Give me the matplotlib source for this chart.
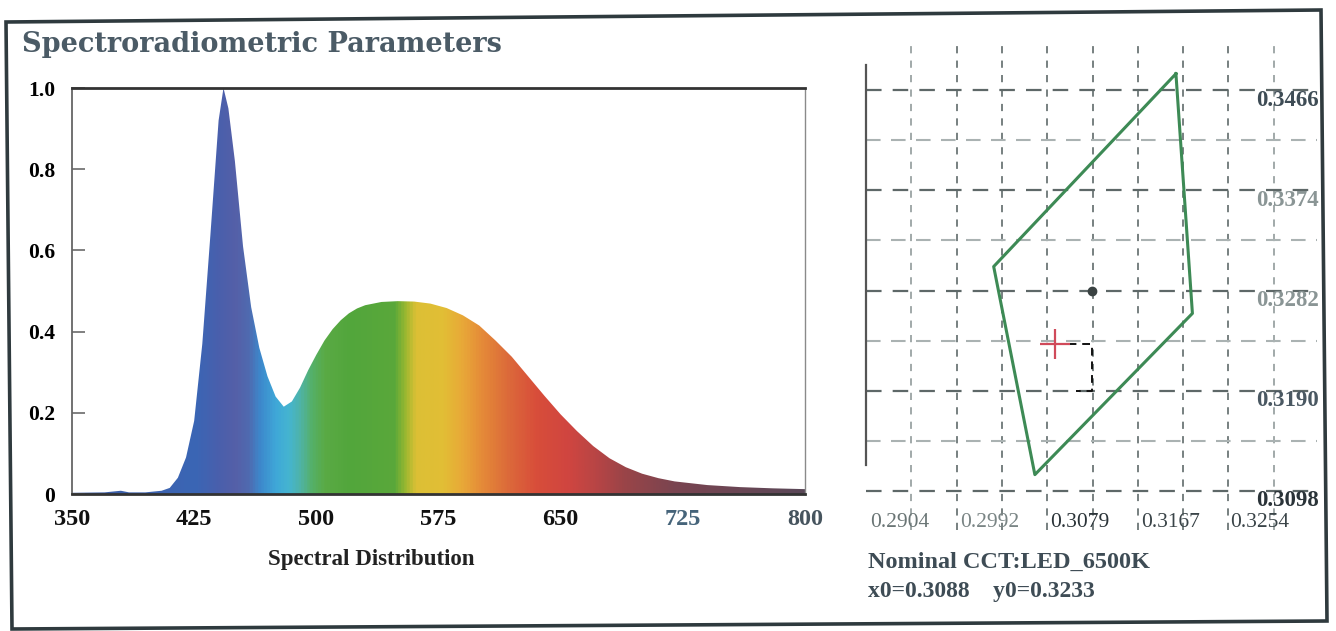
import numpy as np
import matplotlib
matplotlib.use("Agg")
import matplotlib.pyplot as plt
import matplotlib.patches as mpatches
from matplotlib.colors import LinearSegmentedColormap
from matplotlib.transforms import offset_copy

# spectrum (relative power vs wavelength, nm)
wl = [350, 370, 380, 385, 395, 405, 410, 415, 420, 425, 430, 435, 440, 443,
      446, 450, 455, 460, 465, 470, 475, 480, 485, 490, 495, 500, 505, 510,
      515, 520, 525, 530, 540, 550, 560, 570, 580, 590, 600, 610, 620, 630,
      640, 650, 660, 670, 680, 690, 700, 710, 720, 740, 760, 780, 800]
power = [0.003, 0.004, 0.008, 0.004, 0.004, 0.008, 0.015, 0.04, 0.09, 0.18,
         0.37, 0.64, 0.92, 1.00, 0.95, 0.82, 0.61, 0.46, 0.36, 0.29, 0.24,
         0.215, 0.228, 0.262, 0.305, 0.343, 0.378, 0.406, 0.428, 0.445,
         0.457, 0.465, 0.473, 0.475, 0.474, 0.469, 0.458, 0.44, 0.415, 0.378,
         0.338, 0.29, 0.242, 0.196, 0.155, 0.118, 0.088, 0.066, 0.05, 0.039,
         0.031, 0.022, 0.017, 0.014, 0.012]
x_ticks = [350, 425, 500, 575, 650, 725, 800]
y_ticks = [0, 0.2, 0.4, 0.6, 0.8, 1.0]
y_ticklabels = ["0", "0.2", "0.4", "0.6", "0.8", "1.0"]

# chromaticity panel
cie_x_ticks = [0.2904, 0.2992, 0.3079, 0.3167, 0.3254]
cie_y_ticks = [0.3098, 0.3190, 0.3282, 0.3374, 0.3466]
bin_x = [0.3205, 0.3221, 0.3068, 0.3028]   # LED_6500K quadrangle
bin_y = [0.3481, 0.3261, 0.3113, 0.3304]
center_x, center_y = 0.3123, 0.3282
x0, y0 = 0.3088, 0.3233

# wavelength -> display colour (as printed)
color_stops = [(350, "#3a5aa0"), (405, "#3d63b0"), (425, "#3a66b5"),
               (440, "#4a5fac"), (450, "#5560a8"), (458, "#4f6ab0"),
               (465, "#3d88cc"), (475, "#3fa8d8"), (483, "#45b5d0"),
               (490, "#4fb3a5"), (497, "#55b068"), (505, "#5aaa45"),
               (520, "#52a63c"), (548, "#5aa83a"), (555, "#9cb830"),
               (561, "#dcc035"), (578, "#e2be35"), (590, "#e8a838"),
               (602, "#e58a38"), (618, "#dc6a3a"), (635, "#d84e3a"),
               (655, "#d04540"), (672, "#b84545"), (690, "#9a4448"),
               (720, "#7a4450"), (800, "#5a4858")]

W, H = 1336, 631
fig = plt.figure(figsize=(W / 100, H / 100), dpi=100)

# ---- scanned frame ----
frame = mpatches.Polygon([(6 / W, 1 - 22 / H), (1321 / W, 1 - 10 / H),
                          (1327 / W, 1 - 621 / H), (12 / W, 1 - 629 / H)],
                         closed=True, fill=False, edgecolor="#2f3a3e",
                         linewidth=2.6, transform=fig.transFigure)
fig.patches.append(frame)

fig.text(22 / W, 1 - 45 / H, "Spectroradiometric Parameters",
         family="DejaVu Serif", weight="bold", fontsize=19.5,
         color="#4b5b66", va="center", ha="left")

# ---- spectrum ----
ax = fig.add_axes([72 / W, 1 - 494 / H, (805 - 72) / W, (494 - 88) / H])
ax.set_xlim(350, 800)
ax.set_ylim(0, 1.0)

cmap = LinearSegmentedColormap.from_list(
    "spec", [((nm - 350) / 450, c) for nm, c in color_stops])
grad = np.linspace(350, 800, 1200).reshape(1, -1)
im = ax.imshow(grad, extent=[350, 800, 0, 1.0], aspect="auto", cmap=cmap,
               origin="lower", vmin=350, vmax=800, interpolation="bilinear")
verts = np.column_stack([np.r_[wl, wl[::-1]],
                         np.r_[power, np.zeros(len(wl))]])
clip = mpatches.Polygon(verts, closed=True, facecolor="none",
                        edgecolor="none")
ax.add_patch(clip)
im.set_clip_path(clip)

for side, col, lw in [("left", "#666666", 1.3), ("bottom", "#333333", 2.0),
                      ("top", "#333333", 2.0), ("right", "#8a8a8a", 1.0)]:
    ax.spines[side].set_color(col)
    ax.spines[side].set_linewidth(lw)

ax.set_yticks(y_ticks)
ax.set_yticklabels(y_ticklabels)
ax.set_xticks(x_ticks)
ax.tick_params(axis="y", direction="in", length=9, width=1.4,
               color="#808080", pad=12)
ax.tick_params(axis="x", length=0, pad=11)
for lab in ax.get_yticklabels():
    lab.set_fontfamily("Liberation Serif")
    lab.set_fontweight("bold")
    lab.set_fontsize(15.5)
xcolors = ["#111111"] * 5 + ["#46647a", "#46545e"]
for lab, c in zip(ax.get_xticklabels(), xcolors):
    lab.set_fontfamily("Liberation Serif")
    lab.set_fontweight("bold")
    lab.set_fontsize(17.5)
    lab.set_color(c)
fig.text(371 / W, 1 - 560 / H, "Spectral Distribution",
         family="Liberation Serif", weight="bold", fontsize=16.5,
         color="#222222", ha="center", va="center")

# ---- chromaticity window ----
ax2 = fig.add_axes([866 / W, 1 - 530 / H, (1317 - 866) / W, (530 - 43) / H])
ax2.set_xlim(0.2904, 0.3342)
ax2.set_ylim(0.30622, 0.35092)
ax2.axis("off")

xstep = (cie_x_ticks[1] - cie_x_ticks[0]) / 2
ystep = (cie_y_ticks[1] - cie_y_ticks[0]) / 2
xgrid = [cie_x_ticks[0] + xstep * k for k in range(1, 11)]
ygrid = [cie_y_ticks[0] + ystep * k for k in range(0, 10)]
for k, gx in enumerate(xgrid):
    col = "#9aa3a3" if k in (0, 8, 9) else "#6c7676"
    ax2.axvline(gx, color=col, lw=1.3, ls=(0, (4, 4)), zorder=1)
for k, gy in enumerate(ygrid):
    if k % 2 == 0:
        ax2.axhline(gy, color="#5e6868", lw=1.6, ls=(0, (7, 5)), zorder=1)
    else:
        ax2.axhline(gy, color="#aab2b2", lw=1.5, ls=(0, (7, 5)), zorder=1)
ax2.plot([cie_x_ticks[0]] * 2, [0.3122, 0.3489], color="#555555", lw=1.6,
         clip_on=False)

ax2.plot(bin_x + bin_x[:1], bin_y + bin_y[:1], color="#3d8a55", lw=2.2,
         zorder=3)
ax2.plot([center_x], [center_y], "o", color="#3a4242", ms=6, zorder=4)
ax2.plot([x0, center_x, center_x, center_x - xstep / 3],
         [y0, y0, cie_y_ticks[1], cie_y_ticks[1]],
         color="#111111", lw=1.4, ls=(0, (4, 3)), zorder=3)
ax2.plot([x0], [y0], "+", color="#d04a5a", ms=22, mew=1.6, zorder=4)

xlab_cols = ["#6a7575", "#7a8585", "#2a3338", "#3a4448", "#3a4448"]
tr_x = offset_copy(ax2.transData, fig=fig, x=4, y=0, units="dots")
for v, c in zip(cie_x_ticks, xlab_cols):
    ax2.text(v, 0.30622 + 0.0007, f"{v:.4f}", transform=tr_x,
             family="Liberation Serif", fontsize=15.5, color=c,
             ha="left", va="center")
ylab_cols = ["#2a3338", "#4a5862", "#8a9595", "#8a9595", "#3e4c55"]
tr_y = offset_copy(ax2.transData, fig=fig, x=2, y=-10, units="dots")
for v, c in zip(cie_y_ticks, ylab_cols):
    ax2.text(0.3342, v, f"{v:.4f}", transform=tr_y,
             family="Liberation Serif", weight="bold", fontsize=16.5,
             color=c, ha="right", va="center")

fig.text(868 / W, 1 - 562 / H, "Nominal CCT:LED_6500K",
         family="Liberation Serif", weight="bold", fontsize=17.5,
         color="#3e4c55", ha="left", va="center")
fig.text(868 / W, 1 - 591 / H, f"x0={x0:.4f}    y0={y0:.4f}",
         family="Liberation Serif", weight="bold", fontsize=17,
         color="#3e4c55", ha="left", va="center")

fig.savefig("out.png", dpi=100, facecolor="white")
